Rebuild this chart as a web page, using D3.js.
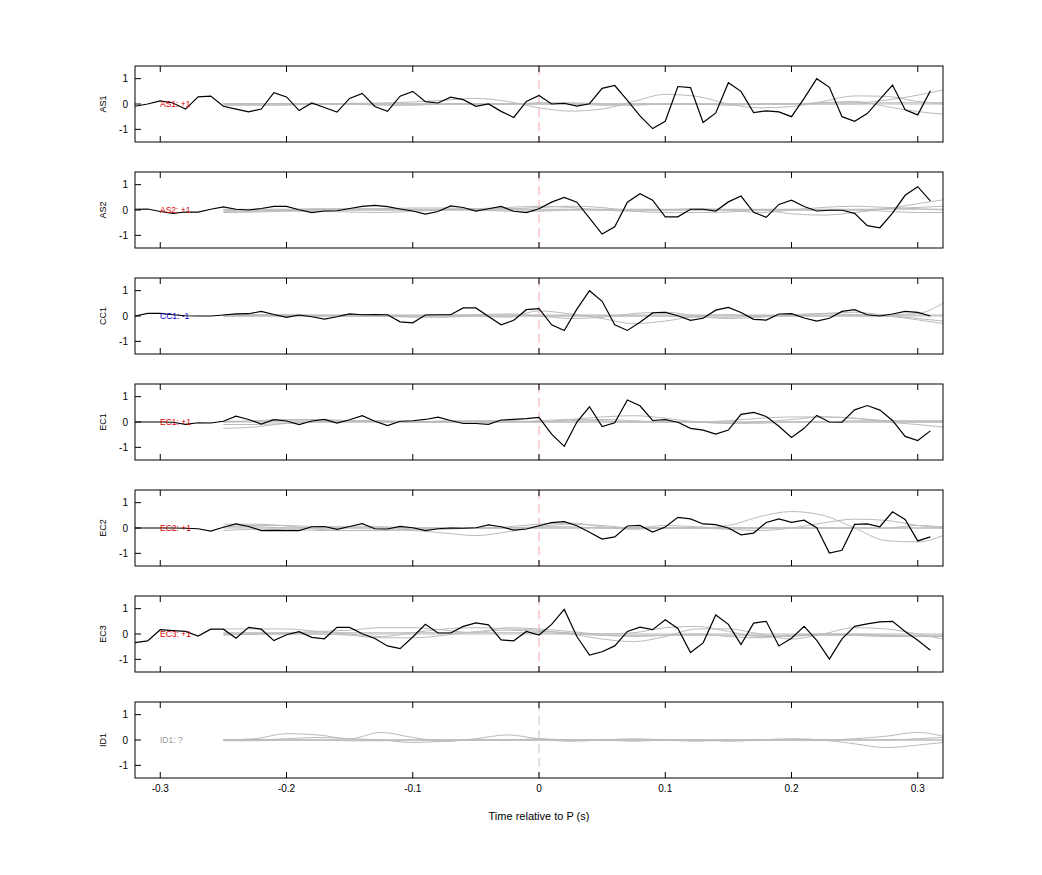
<!DOCTYPE html>
<html><head><meta charset="utf-8">
<script src="https://cdn.jsdelivr.net/npm/d3@7"></script>
<style>body{margin:0;background:#fff}text{font-family:"Liberation Sans",Arial,sans-serif}</style>
</head><body><svg id="c" width="1042" height="875"></svg>
<script>
const channels = ["AS1","AS2","CC1","EC1","EC2","EC3","ID1"];
const labels = ["AS1: +1","AS2: +1","CC1: -1","EC1: +1","EC2: +1","EC3: +1","ID1: ?"];
const labelColors = ["#d00","#d00","#00c","#d00","#d00","#d00","#999"];
const xTicks = [-0.3,-0.2,-0.1,0,0.1,0.2,0.3];
const yTicks = [-1,0,1];
const tBlack = d3.range(64).map(i => -0.32 + i*0.01);
const AS1 = [-0.09,0,0.12,0.04,-0.2,0.28,0.31,-0.09,-0.2,-0.31,-0.2,0.45,0.28,-0.26,0.04,-0.14,-0.32,0.22,0.42,-0.1,-0.29,0.31,0.5,0.09,0.04,0.27,0.17,-0.09,0,-0.29,-0.53,0.1,0.34,0,0.03,-0.08,0.01,0.62,0.73,0.14,-0.47,-0.97,-0.68,0.69,0.65,-0.73,-0.35,0.84,0.5,-0.34,-0.27,-0.31,-0.5,0.22,1.0,0.66,-0.5,-0.68,-0.38,0.18,0.75,-0.23,-0.43,0.52];
const AS2 = [0.03,0.04,-0.06,-0.13,-0.08,-0.08,0.03,0.12,0.03,0,0.06,0.14,0.14,0.01,-0.1,-0.04,-0.03,0.06,0.14,0.18,0.13,0.04,-0.04,-0.16,-0.06,0.16,0.1,-0.04,0.05,0.14,-0.05,-0.1,0.05,0.31,0.5,0.31,-0.32,-0.95,-0.66,0.31,0.64,0.39,-0.27,-0.27,0.03,0.03,-0.04,0.32,0.55,-0.09,-0.29,0.22,0.39,0.14,-0.04,-0.01,-0.01,-0.13,-0.62,-0.7,-0.12,0.58,0.92,0.36];
const CC1 = [0,0.1,0.1,0.05,0.01,0,0,0.04,0.08,0.09,0.18,0.06,-0.05,0.04,-0.03,-0.12,-0.03,0.08,0.05,0.06,0.05,-0.23,-0.27,0.04,0.05,0.05,0.32,0.32,-0.02,-0.35,-0.17,0.25,0.29,-0.35,-0.57,0.27,1.0,0.58,-0.35,-0.57,-0.25,0.12,0.14,0.01,-0.17,-0.09,0.23,0.34,0.14,-0.13,-0.16,0.08,0.09,-0.08,-0.2,-0.09,0.18,0.25,0.05,0,0.08,0.18,0.14,0];
const EC1 = [0,0,0,-0.01,-0.09,-0.03,-0.04,0.03,0.23,0.1,-0.08,0.09,0.04,-0.1,0.04,0.1,-0.04,0.09,0.25,0.03,-0.14,0.03,0.05,0.1,0.19,0.06,-0.06,-0.06,-0.09,0.08,0.1,0.13,0.18,-0.48,-0.96,0,0.6,-0.18,-0.03,0.87,0.64,0.06,0.09,-0.01,-0.25,-0.32,-0.48,-0.32,0.3,0.38,0.22,-0.17,-0.61,-0.25,0.26,0,-0.01,0.48,0.65,0.47,0.06,-0.57,-0.73,-0.35];
const EC2 = [0,0,0,0,-0.01,-0.03,-0.12,0.03,0.16,0.06,-0.1,-0.09,-0.1,-0.1,0.05,0.06,-0.05,0.06,0.17,-0.03,-0.04,0.06,0.01,-0.1,-0.03,0,-0.01,0.01,0.12,0.05,-0.08,-0.04,0.09,0.21,0.25,0.09,-0.17,-0.44,-0.35,0.08,0.1,-0.16,0.04,0.42,0.36,0.16,0.13,0,-0.27,-0.2,0.22,0.36,0.22,0.31,0.01,-0.99,-0.88,0.14,0.16,0.05,0.64,0.34,-0.51,-0.35];
const EC3 = [-0.34,-0.27,0.17,0.13,0.1,-0.08,0.19,0.19,-0.17,0.26,0.19,-0.26,-0.03,0.09,-0.13,-0.19,0.26,0.26,0.01,-0.18,-0.47,-0.58,-0.12,0.38,0.04,0.04,0.3,0.44,0.36,-0.23,-0.27,0.1,-0.04,0.38,0.97,-0.1,-0.83,-0.7,-0.47,0.1,0.27,0.17,0.56,0.22,-0.73,-0.35,0.75,0.38,-0.42,0.43,0.5,-0.47,-0.17,0.3,-0.25,-0.99,-0.19,0.3,0.4,0.48,0.5,0.1,-0.25,-0.64];
const blackSeries = [AS1,AS2,CC1,EC1,EC2,EC3,null];
const tGray = [-0.25,-0.225,-0.2,-0.175,-0.15,-0.125,-0.1,-0.075,-0.05,-0.025,0,0.025,0.05,0.075,0.1,0.125,0.15,0.175,0.2,0.225,0.25,0.275,0.3,0.32];
const gray = [
 [[0,0,0,0,0.02,0.04,0.08,0.15,0.22,0.1,-0.15,-0.28,-0.2,0.1,0.38,0.3,0,-0.15,-0.1,0.1,0.32,0.3,0.1,0],
  [0,0,0.02,0,0,0,0,0,0,0,0.05,0.05,0,0,0,0,-0.05,0,0,0.05,0.1,-0.1,-0.3,-0.4],
  [0,0,0,0,0,0,0,0,0,0,0,0,0,0,0,0,0,0,0,0.05,0.05,0.15,0.35,0.55],
  [-0.05,-0.05,-0.05,0,0,-0.05,-0.05,0,0,0,0,0,-0.05,-0.05,0,0,0,0,0,0,0,0.05,0.05,0.05],
  [0.02,0.02,0,0,0,0,0,0,0,0,0,0,0,0,0,0,0,0,0,0,0,0,0,0]],
 [[-0.05,-0.05,0,0.05,0.05,0.05,0.08,0.08,0.05,0.05,0.1,0.15,0.1,-0.05,-0.1,-0.1,-0.08,0,-0.15,-0.2,-0.1,0.05,0.25,0.4],
  [-0.1,-0.08,-0.05,-0.05,-0.08,-0.1,-0.05,0,0.05,0.1,0.15,0.1,0,-0.05,0,0.05,0,-0.1,0,0.1,0.15,0.1,0.05,0],
  [0,0,0,0,0,0,0,0,0,0,0,0,0,0,0,0,0,0,0,0,0,0.05,0.1,0.15],
  [0,0,-0.02,0,0,0,0,0,0,-0.05,-0.05,0,0,0,0,0,0,0,0,0,0,-0.05,-0.1,-0.1],
  [0.03,0.03,0.03,0.03,0.03,0.03,0.03,0.03,0.03,0.03,0.03,0.03,0.03,0.03,0.03,0.03,0.03,0.03,0.03,0.03,0.03,0.03,0.03,0.03]],
 [[0.05,0.05,0.05,0.03,0,-0.02,0,0.05,0,-0.05,0.2,0.08,-0.1,-0.3,-0.2,0,0.05,0,0,0.1,0.15,0.05,0.1,0.5],
  [0,0,0,0,0.05,0.05,0,0,0.05,0.08,0,-0.1,-0.05,0.1,0.15,0,-0.1,-0.05,0.05,0.1,0.05,0,-0.15,-0.3],
  [0,0.02,0.02,0,0,0,-0.05,-0.05,0,0,0,0,0,0,0,0,0,0,0,0,0,0,0,0],
  [0,0,0,0,0,0,0,0,0,0,0,0,0,0,0,-0.05,-0.05,0,0,0,0,0,-0.1,-0.2],
  [0.04,0.04,0.04,0.04,0.04,0.04,0.04,0.04,0.04,0.04,0.04,0.04,0.04,0.04,0.04,0.04,0.04,0.04,0.04,0.04,0.04,0.04,0.04,0.04]],
 [[-0.25,-0.2,-0.05,0,0.05,0.05,0,0,0.02,0.05,0,0.1,0.2,0.25,0.15,0,-0.05,0,0.1,0.2,0.15,0,-0.1,-0.2],
  [0,0.05,0.1,0.1,0.05,0,0,0.05,0.05,0.05,0,0.05,0.1,0.05,0,0,0.05,0.15,0.2,0.2,0.15,0.05,0,0],
  [-0.1,-0.1,-0.05,0,0,0,0,0,0,0,0,0,0,0,0,0,-0.05,-0.05,0,0,0.05,0.05,0.05,0.05],
  [0,0,0,0,0,0,0,0,0,0,0,0,0,0,0,0,0,0,0,0,0,0,0,0],
  [0.03,0.03,0.05,0.05,0.05,0.05,0,0,0,0,0.05,0.1,0.05,0,0,0,0,0,0,0,0,0,0,0]],
 [[0.15,0.15,0.08,-0.05,-0.1,-0.08,-0.1,-0.2,-0.3,-0.15,0.05,0.15,0.1,0,0,0,0.1,0.45,0.65,0.5,0,-0.5,-0.55,-0.3],
  [0.05,0.1,0.1,0.05,0.05,0.05,0,0,0,0.05,0.15,0.2,0.05,-0.05,0,0,-0.05,-0.1,0,0.2,0.35,0.3,0.1,0],
  [-0.1,-0.05,-0.05,-0.1,-0.1,-0.1,-0.05,-0.05,0,0,0.05,0.05,0,0,0.1,0.05,0,0,0,0,0,0,0.1,0.05],
  [0,0,0,0,0,0,0,0,0,0,0,0,0,0,0,0,0,0,0,0,0,0,0,0],
  [0.05,0.05,0,0,0,0,0,0,0,0,0,0,0,0,0,0,0,0,0,0,0,0,0,0]],
 [[0.2,0.2,0.2,0.1,0,-0.1,0.05,0.2,0.25,0.2,0.15,0,-0.2,-0.3,-0.1,0.2,0.2,0,-0.2,0,0.25,0.2,0,-0.2],
  [0,0,0.05,0.1,0.15,0.25,0.25,0.15,0.05,0.25,0.2,0.1,0,0.05,0.25,0.3,0.1,-0.1,-0.1,0,0,-0.05,-0.1,-0.1],
  [-0.05,0,0,0,-0.05,-0.15,-0.15,-0.05,0.1,0.15,0.1,0.05,-0.05,-0.1,-0.05,0,-0.1,-0.15,-0.05,0,-0.05,-0.1,-0.1,-0.1],
  [0,0,0,0,0,0,0,0,0,0,0,0,0,0,0,0,0,0,0,0,0,0,0,0],
  [0.05,0.05,0.05,0.05,0.05,0.05,0.05,0.05,0.05,0.05,0.05,0,-0.05,-0.05,-0.05,-0.05,-0.05,-0.05,-0.05,-0.05,-0.05,-0.05,-0.05,-0.05]],
 [[0,0.05,0.25,0.2,0.05,0.3,0.1,-0.05,0.05,0.2,0.05,-0.05,0,0.05,0,-0.05,0,0,0,0,0.05,0.15,0.3,0.15],
  [0,0,0.05,0.1,0.05,0,-0.1,-0.05,0,0,0.05,0,0,-0.05,0,0,-0.05,0,0.05,0,-0.15,-0.3,-0.2,-0.1],
  [-0.03,-0.03,0,0,0,0,0,0,0,0,0,0,0,0,0,0,0,0,0,0,0,0,0,0],
  [0,0,0,0,0,0,0,0,0,0,0,0,0,0,0,0,0,0,0,0,0,0,0.05,0.1],
  [0.02,0.02,0,0,-0.03,-0.03,0,0,0,0,0,0,0,0,0,0,0,0,0,0,0,0,0,0]]
];

const svg = d3.select("#c");
const L = 135, R = 943, top0 = 66, ph = 76, gap = 30;
const x = d3.scaleLinear().domain([-0.32,0.32]).range([L,R]);
const fmt = v => (v===0 ? "0" : d3.format(".1f")(v)).replace("\u2212","-");
channels.forEach((ch,i)=>{
  const t = top0 + i*(ph+gap);
  const y = d3.scaleLinear().domain([-1.5,1.5]).range([t+ph,t]);
  const g = svg.append("g");
  const clipId = "clip"+i;
  svg.append("clipPath").attr("id",clipId).append("rect").attr("x",L).attr("y",t).attr("width",R-L).attr("height",ph);
  const pg = g.append("g").attr("clip-path",`url(#${clipId})`);
  const line = d3.line().x(d=>x(d[0])).y(d=>y(d[1]));
  const sline = d3.line().x(d=>x(d[0])).y(d=>y(d[1])).curve(d3.curveMonotoneX);
  pg.append("line").attr("x1",x(0)).attr("x2",x(0)).attr("y1",t).attr("y2",t+ph)
    .attr("stroke", i<6 ? "#f4a0a0" : "#bbb").attr("stroke-dasharray","9,5").attr("stroke-width",0.9);
  gray[i].forEach(s=>{
    pg.append("path").attr("d",sline(tGray.map((tt,k)=>[tt,s[k]]))).attr("fill","none").attr("stroke","#bbb").attr("stroke-width",1);
  });
  if (blackSeries[i]) pg.append("path").attr("d",line(tBlack.map((tt,k)=>[tt,blackSeries[i][k]]))).attr("fill","none").attr("stroke","#000").attr("stroke-width",1.2);
  g.append("text").attr("x",160).attr("y",y(0)+3).attr("font-size",8.5).attr("fill",labelColors[i]).text(labels[i]);
  g.append("rect").attr("x",L).attr("y",t).attr("width",R-L).attr("height",ph).attr("fill","none").attr("stroke","#000").attr("stroke-width",1);
  xTicks.forEach(v=>{
    g.append("line").attr("x1",x(v)).attr("x2",x(v)).attr("y1",t).attr("y2",t+6).attr("stroke","#000");
    g.append("line").attr("x1",x(v)).attr("x2",x(v)).attr("y1",t+ph).attr("y2",t+ph-6).attr("stroke","#000");
  });
  yTicks.forEach(v=>{
    g.append("line").attr("x1",L).attr("x2",L+6).attr("y1",y(v)).attr("y2",y(v)).attr("stroke","#000");
    g.append("text").attr("x",L-7).attr("y",y(v)+3.5).attr("text-anchor","end").attr("font-size",10).text(String(v));
  });
  g.append("text").attr("transform",`translate(106,${y(0)}) rotate(-90)`).attr("text-anchor","middle").attr("font-size",9).text(ch);
  if (i===channels.length-1){
    xTicks.forEach(v=>{
      g.append("text").attr("x",x(v)).attr("y",t+ph+14).attr("text-anchor","middle").attr("font-size",10).text(fmt(v));
    });
  }
});
svg.append("text").attr("x",x(0)).attr("y",820).attr("text-anchor","middle").attr("font-size",11).text("Time relative to P (s)");
</script></body></html>
